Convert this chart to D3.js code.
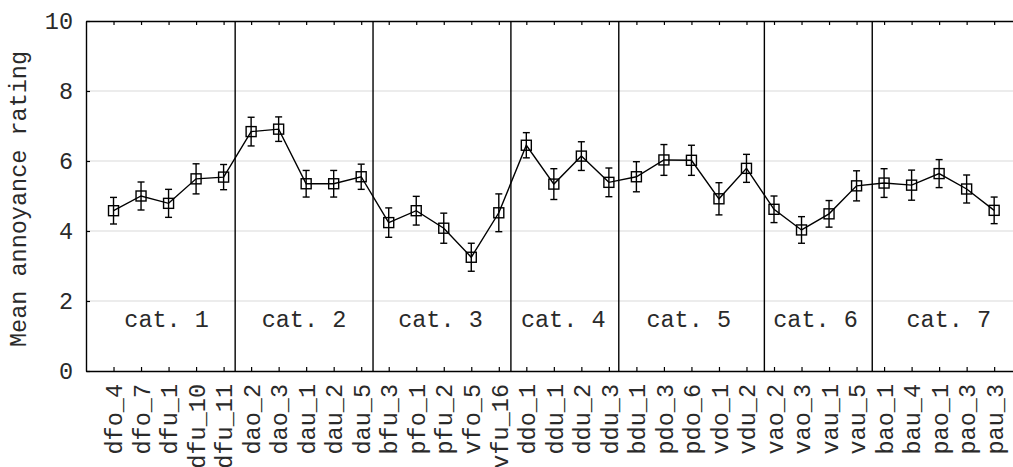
<!DOCTYPE html>
<html>
<head>
<meta charset="utf-8">
<script src="https://cdn.jsdelivr.net/npm/d3@7"></script>
<style>
  html, body { margin: 0; padding: 0; background: #fff; overflow: hidden; }
  svg { display: block; }
  text { font-family: "Liberation Mono", "DejaVu Sans Mono", monospace; fill: #2a2a2a; }
</style>
</head>
<body>
<svg id="chart" width="1013" height="467"></svg>
<script>
const categories = ["dfo_4","dfo_7","dfu_1","dfu_10","dfu_11","dao_2","dao_3","dau_1","dau_2","dau_5",
  "bfu_3","pfo_1","pfu_2","vfo_5","vfu_16","ddo_1","ddu_1","ddu_2","ddu_3","bdu_1","pdo_3","pdo_6",
  "vdo_1","vdu_2","vao_2","vao_3","vau_1","vau_5","bao_1","bau_4","pao_1","pao_3","pau_3"];
const means = [4.58,5.00,4.79,5.49,5.54,6.84,6.91,5.35,5.35,5.55,
  4.24,4.58,4.08,3.25,4.52,6.45,5.34,6.14,5.39,5.55,6.03,6.02,
  4.92,5.79,4.62,4.03,4.49,5.29,5.37,5.31,5.64,5.20,4.59];
const errors = [0.38,0.40,0.40,0.43,0.36,0.41,0.35,0.38,0.38,0.36,
  0.42,0.41,0.43,0.40,0.54,0.36,0.44,0.41,0.41,0.43,0.44,0.43,
  0.46,0.40,0.38,0.38,0.38,0.43,0.41,0.43,0.40,0.40,0.38];
const groupNames = ["cat. 1","cat. 2","cat. 3","cat. 4","cat. 5","cat. 6","cat. 7"];
const groupLabelPos = [2.93, 7.92, 12.88, 17.34, 21.9, 26.51, 31.35];
const separators = [5.42, 10.43, 15.44, 19.36, 24.65, 28.57];
const yTicks = [0, 2, 4, 6, 8, 10];
const gridTicks = [2, 4, 6, 8];
const yLabel = "Mean annoyance rating";

(function () {
const svg = d3.select("#chart");
const mLeft = 86, mTop = 21, mBottom = 371;
const fs = 23.5;

const idx = categories.map((d, i) => i + 1);
const x = d3.scaleLinear().domain([0, 34]).range([mLeft, mLeft + 34 * 27.52]);
const y = d3.scaleLinear().domain([0, 10]).range([mBottom, mTop]);

// grid
svg.append("g").selectAll("line").data(gridTicks).join("line")
  .attr("x1", x(0)).attr("x2", x(34))
  .attr("y1", d => y(d)).attr("y2", d => y(d))
  .attr("stroke", "#d9d9d9").attr("stroke-width", 1);

// separators
svg.append("g").selectAll("line").data(separators).join("line")
  .attr("x1", d => x(d)).attr("x2", d => x(d))
  .attr("y1", y(0)).attr("y2", y(10))
  .attr("stroke", "#000").attr("stroke-width", 1.4);

// category labels
svg.append("g").selectAll("text").data(groupNames).join("text")
  .attr("x", (d, i) => x(groupLabelPos[i]))
  .attr("y", y(1.25))
  .attr("text-anchor", "middle")
  .style("font-size", fs + "px")
  .text(d => d);

// axes
const xb = svg.append("g").attr("transform", `translate(0,${y(0)})`)
  .call(d3.axisBottom(x).tickValues(idx).tickFormat(i => categories[i - 1]).tickSizeInner(-4).tickSizeOuter(0));
xb.select(".domain").attr("stroke", "#000").attr("stroke-width", 1.4);
xb.selectAll(".tick line").attr("stroke", "#000").attr("stroke-width", 1.2);
xb.selectAll(".tick text")
  .attr("transform", "rotate(-90)")
  .attr("x", -13).attr("y", 0).attr("dy", "0.35em")
  .attr("text-anchor", "end")
  .style("font-size", fs + "px").style("font-family", "Liberation Mono").attr("fill", "#2a2a2a");

const xt = svg.append("g").attr("transform", `translate(0,${y(10)})`)
  .call(d3.axisTop(x).tickValues(idx).tickFormat("").tickSizeInner(-4).tickSizeOuter(0));
xt.select(".domain").attr("stroke", "#000").attr("stroke-width", 1.4);
xt.selectAll(".tick line").attr("stroke", "#000").attr("stroke-width", 1.2);

const ya = svg.append("g").attr("transform", `translate(${x(0)},0)`)
  .call(d3.axisLeft(y).tickValues(yTicks).tickFormat(d3.format("d")).tickSizeInner(-4).tickSizeOuter(0));
ya.select(".domain").attr("stroke", "#000").attr("stroke-width", 1.4);
ya.selectAll(".tick line").attr("stroke", "#000").attr("stroke-width", 1.2);
ya.selectAll(".tick text").attr("x", -13)
  .style("font-size", fs + "px").style("font-family", "Liberation Mono").attr("fill", "#2a2a2a");

svg.append("text")
  .attr("transform", `translate(18,${(y(0) + y(10)) / 2 + 3}) rotate(-90)`)
  .attr("text-anchor", "middle").attr("dy", "0.35em")
  .style("font-size", fs + "px")
  .text(yLabel);

// data line
const data = categories.map((c, i) => ({ i: i + 1, m: means[i], e: errors[i] }));
svg.append("path").datum(data)
  .attr("fill", "none").attr("stroke", "#000").attr("stroke-width", 1.4)
  .attr("d", d3.line().x(d => x(d.i)).y(d => y(d.m)));

// error bars
const eb = svg.append("g").attr("stroke", "#000").attr("stroke-width", 1.4);
eb.selectAll("line.v").data(data).join("line").attr("class", "v")
  .attr("x1", d => x(d.i)).attr("x2", d => x(d.i))
  .attr("y1", d => y(d.m - d.e)).attr("y2", d => y(d.m + d.e));
eb.selectAll("line.t").data(data).join("line").attr("class", "t")
  .attr("x1", d => x(d.i) - 3.5).attr("x2", d => x(d.i) + 3.5)
  .attr("y1", d => y(d.m + d.e)).attr("y2", d => y(d.m + d.e));
eb.selectAll("line.b").data(data).join("line").attr("class", "b")
  .attr("x1", d => x(d.i) - 3.5).attr("x2", d => x(d.i) + 3.5)
  .attr("y1", d => y(d.m - d.e)).attr("y2", d => y(d.m - d.e));

// markers
svg.append("g").selectAll("rect").data(data).join("rect")
  .attr("x", d => x(d.i) - 5).attr("y", d => y(d.m) - 5)
  .attr("width", 10).attr("height", 10)
  .attr("fill", "none").attr("stroke", "#000").attr("stroke-width", 1.4);
})();
</script>
</body>
</html>
